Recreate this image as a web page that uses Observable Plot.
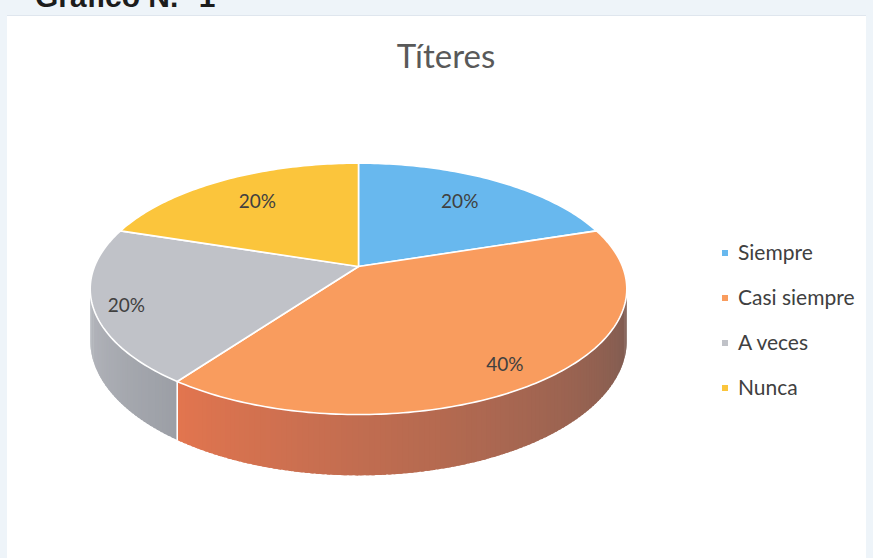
<!DOCTYPE html>
<html>
<head>
<meta charset="utf-8">
<script src="https://cdn.jsdelivr.net/npm/d3@7"></script>
<script src="https://cdn.jsdelivr.net/npm/@observablehq/plot@0.6"></script>
<style>
  html, body { margin: 0; padding: 0; background: #eef4f9; }
  #wrap { position: relative; width: 873px; height: 558px; overflow: hidden; font-family: Lato, "Open Sans", sans-serif; }
  #panel { position: absolute; left: 7px; top: 15px; width: 859px; height: 543px; background: #fff; border-top: 1px solid #dfe6ee; }
  #header { position: absolute; left: 35px; top: -18px; font: bold 30px/30px "Liberation Sans", Arial, sans-serif; color: #1c1c1c; white-space: pre; }
  #title { position: absolute; left: 0; width: 892px; top: 35px; text-align: center; font-size: 33px; line-height: 40px; color: #595959; }
  #chart { position: absolute; left: 0; top: 0; }
  .lg { position: absolute; left: 722px; font-size: 21px; line-height: 24px; color: #404040; white-space: nowrap; }
  .lg .sw { position: absolute; left: 0; width: 6px; height: 6px; }
  .lg .tx { position: absolute; left: 16px; top: 0; }
</style>
</head>
<body>
<div id="wrap">
  <div id="panel"></div>
  <div id="header">Gráfico N.° 1</div>
  <div id="title">Títeres</div>
  <div id="chart"></div>
  <div id="legend"></div>
</div>
<script>
// ---- data ----
const categories = ["Siempre", "Casi siempre", "A veces", "Nunca"];
const values = [20, 40, 20, 20];
const labels = ["20%", "40%", "20%", "20%"];

// ---- styles ----
const topColors = ["#68b8ee", "#f99c5e", "#c0c2c8", "#fbc53c"];
const sideLight = ["#5a9fd0", "#e2754f", "#b6b8be", "#dca934"];
const sideDark  = ["#3f7aa5", "#7a5b52", "#9c9fa6", "#b58a28"];

// ---- layout (3D pie projection) ----
const W = 873, H = 558;
const CX = 358, CY = 266, RX = 264, RY = 121.7, K = 0.178, DEPTH = 50;
const labelR = [0.72, 0.83, 0.88, 0.72];
const labelDy = [0, 6, 5, 0];

function scaleAt(r, t) { const v = -r * Math.cos(t); return 1 / (1 - K * v); }
function proj(r, t) {
  const u = r * Math.sin(t), v = -r * Math.cos(t), s = 1 / (1 - K * v);
  return [CX + RX * u * s, CY + RY * v * s];
}

const arcs = d3.pie().sort(null).value(d => d).startAngle(0).endAngle(2 * Math.PI)(values);
const rows = categories.map((c, i) => ({
  i, category: c, value: values[i], label: labels[i],
  a0: arcs[i].startAngle, a1: arcs[i].endAngle
}));

const DEG = Math.PI / 180;

// top faces
const topPts = [];
rows.forEach(r => {
  const n = Math.max(8, Math.ceil((r.a1 - r.a0) / DEG));
  const c0 = proj(0, 0);
  topPts.push({ cat: r.category, x: c0[0], y: c0[1], c: topColors[r.i] });
  for (let j = 0; j <= n; j++) {
    const t = r.a0 + (r.a1 - r.a0) * j / n;
    const p = proj(1, t);
    topPts.push({ cat: r.category, x: p[0], y: p[1], c: topColors[r.i] });
  }
  topPts.push({ cat: r.category, x: c0[0], y: c0[1], c: topColors[r.i] });
});

// visible side (front half), drawn as overlapping strips for a smooth shade
const T0 = Math.PI / 2 + Math.asin(K), T1 = 3 * Math.PI / 2 - Math.asin(K);
const sidePts = [];
let sid = 0;
rows.forEach(r => {
  const lo = Math.max(r.a0, T0), hi = Math.min(r.a1, T1);
  if (hi <= lo) return;
  const n = Math.ceil((hi - lo) / DEG);
  const interp = d3.interpolateRgb(sideLight[r.i], sideDark[r.i]);
  for (let j = 0; j < n; j++) {
    const t0 = lo + (hi - lo) * j / n;
    const t1 = Math.min(hi, lo + (hi - lo) * (j + 1) / n + 0.6 * DEG);
    const frac = (lo + (hi - lo) * (j + 0.5) / n - lo) / (hi - lo);
    const col = interp(1 - frac);
    const m = 4, edge = [];
    for (let q = 0; q <= m; q++) edge.push(t0 + (t1 - t0) * q / m);
    const top = edge.map(t => proj(1, t));
    const bot = edge.map(t => { const p = proj(1, t); return [p[0], p[1] + DEPTH * scaleAt(1, t)]; }).reverse();
    [...top, ...bot, top[0]].forEach(([x, y]) => sidePts.push({ id: sid, x, y, c: col }));
    sid++;
  }
});

// side separators
const sepPts = [];
rows.forEach(r => {
  if (r.a0 > T0 && r.a0 < T1) {
    const p = proj(1, r.a0), d = DEPTH * scaleAt(1, r.a0);
    sepPts.push({ id: r.i, x: p[0], y: p[1] }, { id: r.i, x: p[0], y: p[1] + d });
  }
});

const chart = Plot.plot({
  width: W, height: H, margin: 0,
  style: { background: "transparent", fontFamily: "Lato, 'Open Sans', sans-serif" },
  x: { domain: [0, W], range: [0, W], axis: null },
  y: { domain: [0, H], range: [0, H], axis: null },
  color: { type: "identity" },
  marks: [
    Plot.line(sidePts, { x: "x", y: "y", z: "id", fill: "c", stroke: "none", curve: "linear" }),
    Plot.line(sepPts, { x: "x", y: "y", z: "id", stroke: "white", strokeWidth: 1.6 }),
    Plot.line(topPts, { x: "x", y: "y", z: "cat", fill: "c", stroke: "white", strokeWidth: 1.6, strokeLinejoin: "round", curve: "linear" }),
    Plot.text(rows, {
      x: d => proj(labelR[d.i], (d.a0 + d.a1) / 2)[0],
      y: d => proj(labelR[d.i], (d.a0 + d.a1) / 2)[1] + labelDy[d.i],
      text: "label", fontSize: 19, fill: "#404040"
    })
  ]
});
document.getElementById("chart").appendChild(chart);

// legend
const lg = document.getElementById("legend");
categories.forEach((c, i) => {
  const row = document.createElement("div");
  row.className = "lg";
  row.style.top = (239.9 + 45 * i) + "px";
  const sw = document.createElement("span");
  sw.className = "sw";
  sw.style.background = topColors[i];
  sw.style.top = "10.6px";
  const tx = document.createElement("span");
  tx.className = "tx";
  tx.textContent = c;
  row.appendChild(sw); row.appendChild(tx);
  lg.appendChild(row);
});
</script>
</body>
</html>
